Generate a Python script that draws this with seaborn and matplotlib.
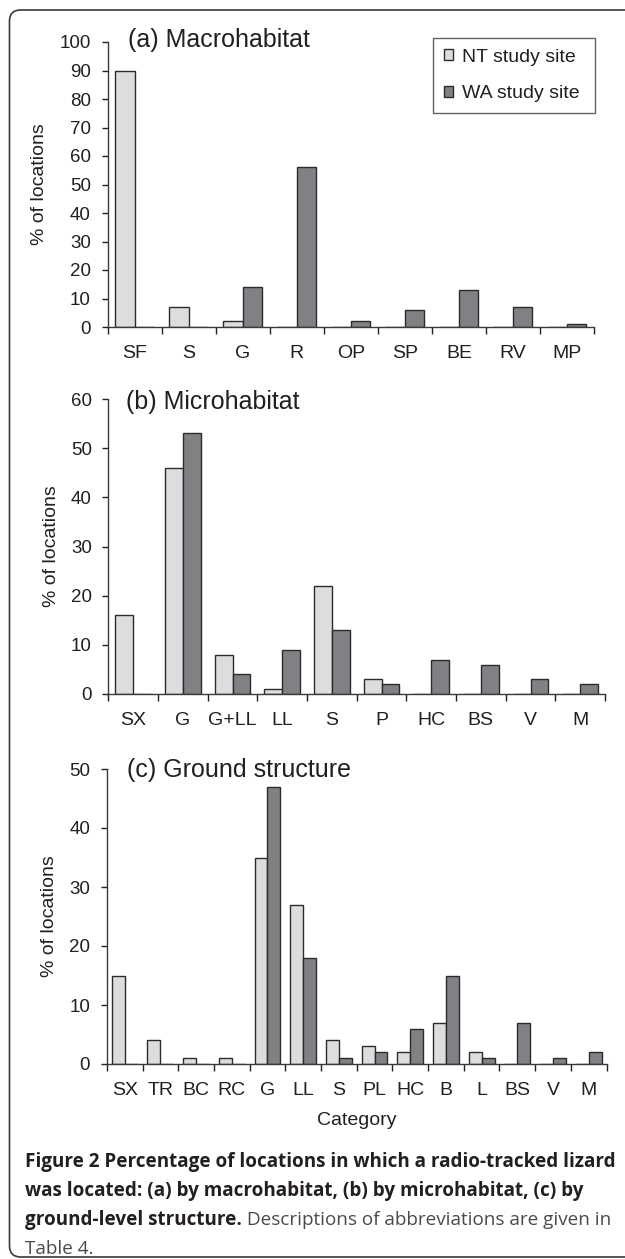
import matplotlib
matplotlib.use("Agg")
import matplotlib.pyplot as plt
from matplotlib.patches import FancyBboxPatch
import seaborn as sns
import pandas as pd
import numpy as np

# ---------------- data ----------------
sites = ["NT study site", "WA study site"]

cats_a = ["SF", "S", "G", "R", "OP", "SP", "BE", "RV", "MP"]
nt_a = [90, 7, 2, 0, 0, 0, 0, 0, 0]
wa_a = [0, 0, 14, 56, 2, 6, 13, 7, 1]

cats_b = ["SX", "G", "G+LL", "LL", "S", "P", "HC", "BS", "V", "M"]
nt_b = [16, 46, 8, 1, 22, 3, 0, 0, 0, 0]
wa_b = [0, 53, 4, 9, 13, 2, 7, 6, 3, 2]

cats_c = ["SX", "TR", "BC", "RC", "G", "LL", "S", "PL", "HC", "B", "L", "BS", "V", "M"]
nt_c = [15, 4, 1, 1, 35, 27, 4, 3, 2, 7, 2, 0, 0, 0]
wa_c = [0, 0, 0, 0, 47, 18, 1, 2, 6, 15, 1, 7, 1, 2]

titles = ["(a) Macrohabitat", "(b) Microhabitat", "(c) Ground structure"]
ymax = [100, 60, 50]
ylabel = "% of locations"
xlabel = "Category"

# ---------------- style ----------------
sns.set_theme(style="ticks")
plt.rcParams["font.family"] = ["Liberation Sans", "DejaVu Sans"]
TXT = "#231f20"
plt.rcParams["text.color"] = TXT
plt.rcParams["axes.labelcolor"] = TXT
plt.rcParams["xtick.color"] = TXT
plt.rcParams["ytick.color"] = TXT

W, H = 625, 1259
fig = plt.figure(figsize=(W / 100, H / 100), dpi=100)
fig.patch.set_facecolor("white")

palette = ["#dcdddf", "#808184"]
edge = "#2b2b2b"
YTICK_FS = 13.5
XTICK_FS = 14


def frac_rect(left, right, top, bottom):
    return [left / W, 1 - bottom / H, (right - left) / W, (bottom - top) / H]


rects = [
    frac_rect(107.6, 594, 42, 327),
    frac_rect(108.4, 605, 399, 694),
    frac_rect(106.8, 606.6, 769, 1064),
]
title_pos = [(128, 47), (125.5, 409), (127.5, 777)]

datasets = [(cats_a, nt_a, wa_a), (cats_b, nt_b, wa_b), (cats_c, nt_c, wa_c)]

axes = []
for i, (cats, nt, wa) in enumerate(datasets):
    ax = fig.add_axes(rects[i])
    df = pd.DataFrame({
        "Category": cats * 2,
        "Percent": list(nt) + list(wa),
        "Site": [sites[0]] * len(cats) + [sites[1]] * len(cats),
    })
    sns.barplot(data=df, x="Category", y="Percent", hue="Site",
                order=cats, hue_order=sites, palette=palette,
                width=0.72, edgecolor=edge, linewidth=1.0,
                saturation=1, errorbar=None, ax=ax, legend=(i == 0))
    n = len(cats)
    ax.set_xlim(-0.5, n - 0.5)
    ax.set_ylim(0, ymax[i])
    ax.set_yticks(np.arange(0, ymax[i] + 1, 10))
    ax.set_xticks(np.arange(n))
    ax.set_xticklabels(cats)
    ax.set_xticks(np.arange(n + 1) - 0.5, minor=True)
    ax.tick_params(axis="x", which="major", length=0, pad=13, labelsize=XTICK_FS)
    ax.tick_params(axis="x", which="minor", length=5, width=1, direction="out")
    ax.tick_params(axis="y", which="major", length=4, width=1, pad=8, labelsize=YTICK_FS)
    for s in ["top", "right"]:
        ax.spines[s].set_visible(False)
    for s in ["left", "bottom"]:
        ax.spines[s].set_color("#3a3a3a")
        ax.spines[s].set_linewidth(1.0)
    ax.set_ylabel(ylabel, fontsize=14, labelpad=8)
    ax.set_xlabel("")
    fig.text(title_pos[i][0] / W, 1 - title_pos[i][1] / H, titles[i],
             fontsize=18, va="baseline", ha="left", color=TXT)
    axes.append(ax)

# legend on panel a
ax0 = axes[0]
handles, labels = ax0.get_legend_handles_labels()
ax0.legend(handles, labels, loc="upper left",
           bbox_to_anchor=(433 / W, 1 - 116 / H, (595 - 433) / W, 78 / H),
           bbox_transform=fig.transFigure, mode="expand",
           frameon=True, fancybox=False, edgecolor="#3a3a3a",
           fontsize=14, handlelength=0.48, handleheight=0.48,
           handletextpad=0.48, labelspacing=1.0, borderpad=0.55,
           borderaxespad=0)
ax0.get_legend().get_frame().set_linewidth(1.0)

# x label for panel c
axes[2].set_xlabel(xlabel, fontsize=14, labelpad=9)

# ---------------- caption ----------------
cap_font = ["Open Sans", "DejaVu Sans"]
cap_x = 25 / W
base = [1167, 1196, 1225, 1254]
fs = 13.6
bold_lines = [
    "Figure 2 Percentage of locations in which a radio-tracked lizard",
    "was located: (a) by macrohabitat, (b) by microhabitat, (c) by",
]
for k, line in enumerate(bold_lines):
    fig.text(cap_x, 1 - base[k] / H, line, fontsize=fs, fontweight="bold",
             family=cap_font, color=TXT, va="baseline", ha="left")
t3 = fig.text(cap_x, 1 - base[2] / H, "ground-level structure.", fontsize=fs,
              fontweight="bold", family=cap_font, color=TXT,
              va="baseline", ha="left")
fig.canvas.draw()
bb = t3.get_window_extent(renderer=fig.canvas.get_renderer())
fig.text(bb.x1 / W, 1 - base[2] / H, " Descriptions of abbreviations are given in",
         fontsize=fs, family=cap_font, color="#4a4a4a", va="baseline", ha="left")
fig.text(cap_x, 1 - base[3] / H, "Table 4.", fontsize=fs, family=cap_font,
         color="#4a4a4a", va="baseline", ha="left")

# ---------------- frame ----------------
frame = FancyBboxPatch((9.5, H - 1257), 720, 1257 - 10,
                       boxstyle="round,pad=0,rounding_size=11",
                       transform=None, fill=False, edgecolor="#3a3a3a",
                       linewidth=1.2, clip_on=False)
fig.patches.append(frame)

fig.savefig("out.png", dpi=100, facecolor="white")
